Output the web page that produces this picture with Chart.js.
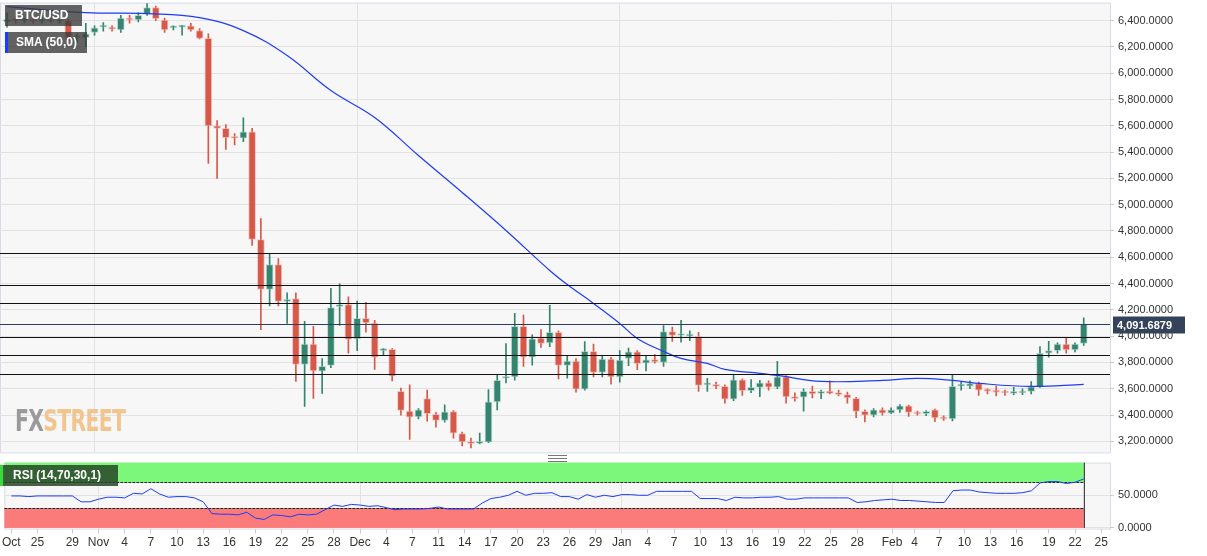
<!DOCTYPE html>
<html><head><meta charset="utf-8">
<script src="https://cdn.jsdelivr.net/npm/chart.js@4.4.1/dist/chart.umd.min.js"></script>
<style>
body{margin:0;background:#fff;font-family:"Liberation Sans",Arial,sans-serif;width:1207px;height:556px;overflow:hidden;position:relative}
#p{position:absolute;left:0;top:-8px;width:1207px;height:471px}
#r{position:absolute;left:0;top:452px;width:1207px;height:100px}
.lg{position:absolute;background:rgba(60,60,60,0.8);color:#fff;font-size:12px;font-weight:bold;line-height:21px;padding-left:10px}
#wm{position:absolute;left:15px;top:403px;font-family:"DejaVu Sans",sans-serif;font-weight:bold;font-size:30px;letter-spacing:-1px;transform:scaleX(0.68);transform-origin:0 0}
#hd{position:absolute;left:548px;top:455px;width:19px;height:5px;border-top:1px solid #777;border-bottom:1px solid #777}
#hd:after{content:"";position:absolute;left:0;top:2px;width:19px;border-top:1px solid #777}
</style></head><body>
<div id="p"><canvas id="pc"></canvas></div>
<div id="r"><canvas id="rc"></canvas></div>
<div id="wm"><span style="color:#9a9a9a">FX</span><span style="color:#f2c48e">STREET</span></div>
<div class="lg" style="left:5px;top:5px;width:67px;border-left:0">BTC/USD</div>
<div class="lg" style="left:5px;top:32px;width:71px;border-left:3px solid #1a3cff;padding-left:8px">SMA (50,0)</div>
<div class="lg" style="left:0;top:465px;width:105px;border-left:3px solid #33dd33;padding-left:10px;background:rgba(40,70,40,0.85)">RSI (14,70,30,1)</div>
<div id="hd"></div>
<script>
// ---- data ----
const opens =[6390,6410,6400,6405,6395,6400,6395,6400,6270,6270,6310,6350,6345,6330,6420,6405,6450,6500,6405,6345,6350,6360,6325,6265,5600,5580,5510,5505,5555,4735,4355,4545,4265,4285,3785,3940,3733,3778,4225,4240,3980,4135,4100,3890,3900,3580,3430,3385,3525,3405,3360,3427,3260,3195,3185,3193,3500,3680,3690,4075,3840,3985,3948,4030,3778,3810,3597,3885,3725,3825,3690,3830,3880,3795,3822,3800,4035,4005,4000,3998,3630,3632,3618,3520,3668,3585,3610,3645,3612,3690,3538,3537,3580,3565,3582,3570,3555,3528,3428,3400,3440,3415,3440,3470,3420,3410,3440,3385,3370,3620,3620,3640,3590,3585,3578,3565,3568,3580,3615,3870,3890,3940,3895,3945];
const highs =[6460,6430,6420,6420,6420,6420,6410,6410,6300,6380,6360,6385,6360,6440,6440,6460,6530,6510,6420,6360,6365,6380,6340,6300,5640,5610,5540,5660,5580,4895,4630,4590,4330,4330,4112,4075,3830,4363,4398,4300,4266,4257,4120,3905,3905,3605,3630,3450,3590,3420,3478,3435,3270,3225,3262,3594,3705,3943,4173,4160,4010,4050,4234,4040,3853,3830,3958,3940,3850,3840,3890,3910,3890,3855,3860,4080,4070,4120,4040,4030,3680,3650,3630,3710,3675,3670,3665,3660,3808,3700,3570,3600,3620,3590,3660,3590,3575,3535,3440,3450,3455,3455,3480,3475,3430,3435,3445,3395,3710,3655,3660,3650,3600,3620,3590,3610,3600,3655,3920,3960,3950,3985,3950,4140];
const lows  =[6350,6380,6385,6380,6380,6385,6380,6250,6230,6200,6290,6320,6320,6310,6380,6390,6440,6400,6310,6330,6290,6320,6260,5313,5200,5420,5455,5480,4690,4050,4230,4230,4097,3656,3466,3527,3565,3760,4082,3870,3890,4030,3747,3860,3660,3400,3215,3370,3353,3308,3345,3225,3165,3150,3180,3190,3440,3645,3665,3770,3780,3915,3920,3675,3680,3575,3590,3690,3690,3635,3650,3775,3745,3735,3795,3770,3960,3955,3965,3580,3580,3600,3490,3510,3550,3570,3540,3590,3600,3490,3505,3430,3530,3525,3560,3545,3490,3380,3348,3385,3400,3410,3420,3390,3400,3395,3350,3360,3355,3590,3600,3550,3560,3545,3550,3555,3555,3560,3610,3840,3870,3870,3880,3930];
const closes=[6410,6400,6405,6395,6400,6395,6400,6270,6275,6300,6345,6352,6335,6420,6405,6440,6500,6415,6330,6348,6360,6330,6265,5600,5580,5510,5505,5555,4735,4355,4545,4265,4280,3785,3940,3735,3770,4218,4240,3975,4135,4100,3840,3895,3695,3435,3383,3440,3410,3360,3425,3262,3195,3183,3195,3500,3665,3690,4075,3840,3980,3945,4030,3778,3810,3597,3885,3725,3825,3690,3818,3880,3790,3820,3805,4035,4005,4008,4002,3625,3632,3618,3520,3668,3585,3610,3645,3612,3690,3538,3525,3580,3560,3575,3565,3555,3530,3428,3400,3440,3415,3440,3470,3420,3408,3428,3378,3370,3618,3622,3640,3590,3582,3575,3568,3568,3582,3615,3870,3890,3940,3895,3940,4092];
const rsi=[49,49,48,49,49,49,49,49,40,40,44,47,47,46,53,52,60,52,47,48,48,46,40,22,21,21,20,24,15,13,20,19,17,21,20,21,28,35,33,36,35,33,34,31,28,29,29,29,30,32,29,29,29,29,38,45,47,50,56,50,53,53,54,48,48,44,51,47,50,48,51,51,50,50,56,56,56,56,56,45,45,45,42,47,46,46,47,47,48,44,44,46,46,46,46,46,46,39,40,42,43,44,42,42,41,40,39,39,57,58,58,55,54,53,53,53,54,57,69,71,71,68,70,75];
const smaSlots=[0,9,16,22,27,32,37,42,47,52,57,62,64,67,70,72,75,77,80,82,86,88,93,100,104,108,111,117,123];
const smaValues=[6506,6461,6453,6423,6324,6134,5868,5663,5374,5093,4804,4500,4393,4249,4097,3983,3884,3831,3793,3747,3717,3702,3656,3664,3679,3664,3641,3618,3633];
const levels=[4629,4386,4249,3990,3854,3709];
const lastPrice=4091.6879;
const priceTicks=[3200,3400,3600,3800,4000,4200,4400,4600,4800,5000,5200,5400,5600,5800,6000,6200,6400];
const dateLabels=["Oct","25","29","Nov","4","7","10","13","16","19","22","25","28","Dec","4","7","11","14","17","20","23","26","29","Jan","4","7","10","13","16","19","22","25","28","Feb","4","7","10","13","16","19","22","25"];
const dateSlots=[0,3,7,10,13,16,19,22,25,28,31,34,37,40,43,46,49,52,55,58,61,64,67,70,73,76,79,82,85,88,91,94,97,101,103.6,106.4,109.3,112.3,115.3,119,122,125];
const monthSlots=[10,40,70,101];
// ---- build ----
const GREEN='#35846f', RED='#d65849';
const n=opens.length;
const col=opens.map((o,i)=>closes[i]>=o?GREEN:RED);
const bodies=opens.map((o,i)=>({x:i,y:[o,closes[i]]}));
const wicks=opens.map((o,i)=>({x:i,y:[lows[i],highs[i]]}));
const sma=smaSlots.map((s,i)=>({x:s,y:smaValues[i]}));
const XMIN=-0.8, XMAX=126;
const fmt=v=>v.toLocaleString('en-US',{minimumFractionDigits:4,maximumFractionDigits:4});
const bg={id:'bg',beforeDraw(c){const a=c.chartArea,x=c.ctx;x.save();x.fillStyle='#f7f7f7';x.fillRect(a.left,a.top,a.right-a.left,a.bottom-a.top);x.strokeStyle='#d6dbe6';x.lineWidth=1;x.strokeRect(a.left+0.5,a.top+0.5,a.right-a.left,a.bottom-a.top);x.restore();}};
const lines={id:'lines',afterDatasetsDraw(c){const a=c.chartArea,x=c.ctx,y=c.scales.y;x.save();x.lineWidth=1.2;x.strokeStyle='#111';levels.forEach(l=>{const p=Math.round(y.getPixelForValue(l))+0.5;x.beginPath();x.moveTo(a.left,p);x.lineTo(a.right,p);x.stroke();});
const p=Math.round(y.getPixelForValue(lastPrice))+0.5;x.strokeStyle='#2c3e5a';x.beginPath();x.moveTo(a.left,p);x.lineTo(a.right,p);x.stroke();
x.fillStyle='#34435a';x.fillRect(a.right+3,p-8,72,17);x.fillStyle='#fff';x.font='bold 11px "Liberation Sans"';x.textBaseline='middle';x.fillText(fmt(lastPrice),a.right+7,p+1);x.restore();}};
new Chart(document.getElementById('pc'),{
 type:'bar',
 data:{datasets:[
  {type:'line',data:sma,borderColor:'#1f3cf5',borderWidth:1.2,pointRadius:0,tension:0.4,order:0},
  {data:wicks,backgroundColor:col,barThickness:1,order:2,grouped:false},
  {data:bodies,backgroundColor:col,borderColor:col.map(c=>c==GREEN?'rgba(150,200,185,0.6)':'rgba(240,170,160,0.6)'),borderWidth:1,borderSkipped:false,barThickness:7,minBarLength:2,order:1,grouped:false}
 ]},
 plugins:[bg,lines],
 options:{responsive:true,maintainAspectRatio:false,animation:false,
  layout:{padding:{left:0,top:0,right:0,bottom:0}},
  plugins:{legend:{display:false},tooltip:{enabled:false}},
  scales:{
   x:{type:'linear',offset:false,min:XMIN,max:XMAX,ticks:{display:false},border:{display:false},
      afterBuildTicks:s=>{s.ticks=monthSlots.map(v=>({value:v}));},
      grid:{color:'#e2e2e2',drawTicks:false,offset:false},afterFit:s=>{s.height=3;}},
   y:{position:'right',min:3116,max:6537,border:{display:false},
      afterBuildTicks:s=>{s.ticks=priceTicks.map(v=>({value:v}));},
      afterFit:s=>{s.width=97;},
      grid:{color:'#e2e2e2',drawTicks:true,tickLength:4,tickColor:'#ccc'},
      ticks:{color:'#333',font:{size:11,family:'Liberation Sans'},padding:4,callback:v=>fmt(v)}}
  }}
});
const bands={id:'bands',beforeDatasetsDraw(c){const a=c.chartArea,x=c.ctx,y=c.scales.y,xs=c.scales.x;const r=xs.getPixelForValue(n-1);x.save();
x.fillStyle='#7cf77c';const t1=y.getPixelForValue(100),b1=y.getPixelForValue(70);x.fillRect(a.left,t1,r-a.left,b1-t1);
x.fillStyle='#fb7b7b';const t2=y.getPixelForValue(30),b2=y.getPixelForValue(0);x.fillRect(a.left,t2,r-a.left,b2-t2);
x.strokeStyle='#222';x.lineWidth=1;x.setLineDash([3,1]);[70,30].forEach(v=>{const p=Math.round(y.getPixelForValue(v))+0.5;x.beginPath();x.moveTo(a.left,p);x.lineTo(r,p);x.stroke();});
x.setLineDash([]);x.beginPath();x.moveTo(r+0.5,t1);x.lineTo(r+0.5,b2);x.stroke();x.restore();}};
new Chart(document.getElementById('rc'),{
 type:'line',
 data:{datasets:[{data:rsi.map((v,i)=>({x:i,y:v})),borderColor:'#1f3cf5',borderWidth:1,pointRadius:0,tension:0}]},
 plugins:[bg,bands],
 options:{responsive:true,maintainAspectRatio:false,animation:false,
  layout:{padding:{top:2}},
  plugins:{legend:{display:false},tooltip:{enabled:false}},
  scales:{
   x:{type:'linear',offset:false,min:XMIN,max:XMAX,border:{display:false},
      afterBuildTicks:s=>{s.ticks=dateSlots.map(v=>({value:v}));},
      grid:{color:c=>monthSlots.includes(c.tick&&c.tick.value)?'#e2e2e2':'rgba(0,0,0,0)',drawTicks:true,tickLength:5,tickColor:'#ccc'},
      ticks:{color:'#333',font:{size:12,family:'Liberation Sans'},maxRotation:0,autoSkip:false,padding:2,callback:(v)=>dateLabels[dateSlots.indexOf(v)]}},
   y:{position:'right',min:-1,max:100,border:{display:false},
      afterBuildTicks:s=>{s.ticks=[{value:0},{value:50}];},
      afterFit:s=>{s.width=97;},
      grid:{color:'#e2e2e2',tickLength:4,tickColor:'#ccc'},
      ticks:{color:'#333',font:{size:11,family:'Liberation Sans'},padding:4,callback:v=>fmt(v)}}
  }}
});
</script></body></html>
